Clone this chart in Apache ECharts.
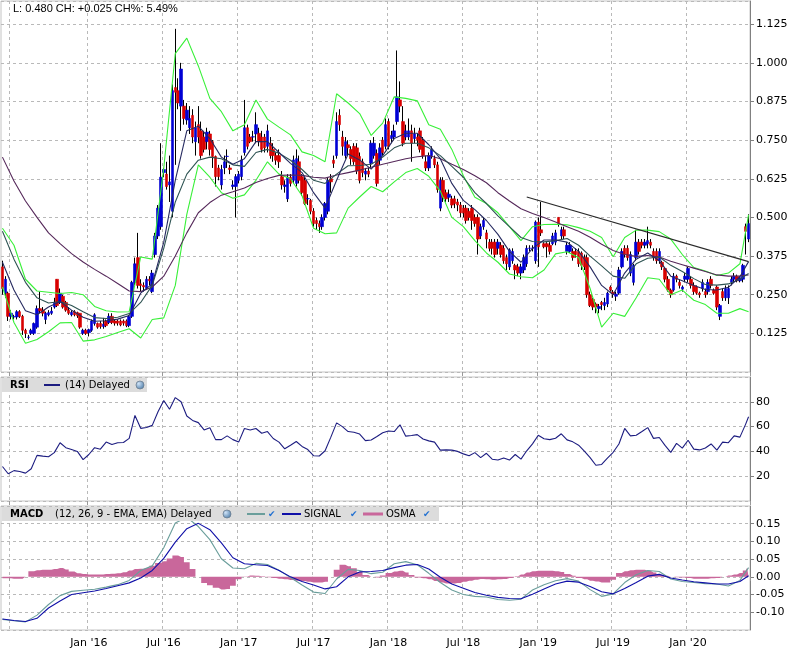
<!DOCTYPE html>
<html>
<head>
<meta charset="utf-8">
<script src="https://cdn.jsdelivr.net/npm/echarts@6/dist/echarts.min.js"></script>
<style>html,body{margin:0;padding:0;background:#fff}#chart{width:796px;height:655px}</style>
</head>
<body>
<div id="chart"></div>
<script>
'use strict';
// weekly candles, first week 2015-06-05
var START_WEEK = Date.UTC(2015, 5, 5);

var openPx = [
  .34,.255,.255,.18,.178,.178,.195,.18,.135,.112, .125,.125,.145,.205,.20,.17,.185,.19,.21,.30,
  .225,.245,.225,.20,.185,.195,.192,.19,.125,.135, .127,.135,.157,.157,.157,.147,.165,.16,.18,.165,
  .165,.165,.165,.165,.15,.18,.29,.37,.285,.28, .27,.30,.26,.38,.44,.47,.645,.64,.605,.52,
  .92,.91,.86,.86,.815,.79,.83,.745,.80,.78, .76,.745,.77,.745,.697,.66,.605,.66,.697,.66,
  .60,.60,.62,.632,.71,.79,.76,.76,.77,.772, .76,.76,.73,.74,.72,.70,.70,.632,.60,.56,
  .63,.62,.61,.68,.632,.62,.56,.555,.52,.49, .48,.47,.50,.52,.625,.685,.70,.83,.76,.70,
  .735,.72,.73,.725,.697,.68,.64,.65,.675,.70, .707,.685,.75,.73,.81,.755,.76,.81,.88,.81,
  .76,.76,.78,.755,.76,.78,.75,.68,.66,.70, .69,.67,.53,.62,.58,.565,.56,.56,.55,.54,
  .53,.53,.52,.53,.50,.50,.44,.47,.45,.42, .42,.42,.40,.41,.40,.37,.34,.36,.345,.34,
  .32,.33,.35,.40,.40,.36,.485,.46,.415,.415, .41,.415,.42,.50,.44,.46,.39,.39,.39,.39,
  .39,.385,.37,.37,.25,.235,.22,.205,.225,.215, .22,.275,.258,.245,.255,.34,.40,.40,.32,.29,
  .37,.42,.42,.41,.415,.42,.39,.39,.36,.355, .335,.30,.265,.265,.31,.29,.268,.30,.30,.30,
  .28,.275,.255,.27,.26,.26,.30,.265,.275,.18, .26,.24,.24,.29,.30,.31,.295,.30,.47,.43
];
var closePx = [
  .27,.30,.18,.19,.179,.195,.18,.135,.125,.113, .135,.157,.205,.198,.19,.19,.192,.197,.225,.215,
  .255,.21,.20,.19,.193,.185,.182,.145,.135,.125, .137,.165,.185,.145,.147,.155,.15,.18,.16,.158,
  .158,.152,.158,.15,.18,.29,.35,.28,.28,.275, .30,.295,.32,.44,.53,.63,.655,.60,.615,.91,
  .905,.87,.98,.82,.847,.82,.76,.79,.76,.70, .72,.776,.72,.697,.632,.632,.655,.68,.698,.655,
  .605,.632,.64,.686,.79,.73,.745,.761,.80,.745, .72,.725,.78,.70,.70,.685,.68,.605,.605,.63,
  .61,.686,.69,.62,.58,.545,.561,.52,.48,.48, .47,.50,.545,.62,.615,.675,.81,.80,.73,.745,
  .725,.69,.68,.65,.62,.645,.65,.64,.74,.74, .61,.725,.71,.80,.73,.765,.78,.89,.86,.74,
  .78,.78,.74,.77,.75,.72,.70,.66,.70,.72, .67,.59,.62,.565,.56,.575,.54,.545,.54,.515,
  .515,.49,.50,.49,.48,.43,.47,.49,.43,.40, .40,.38,.42,.38,.36,.35,.395,.39,.33,.32,
  .34,.37,.40,.401,.401,.485,.405,.45,.405,.405, .39,.44,.45,.48,.46,.44,.41,.41,.37,.38,
  .35,.345,.34,.25,.215,.21,.21,.212,.218,.225, .255,.265,.252,.252,.33,.39,.38,.37,.38,.345,
  .42,.39,.41,.42,.425,.41,.37,.36,.39,.34, .30,.265,.25,.31,.30,.28,.275,.31,.335,.28,
  .26,.255,.25,.29,.25,.29,.28,.255,.21,.215, .24,.27,.27,.30,.31,.295,.305,.345,.455,.48
];
var lowPx = [
  .25,.24,.165,.17,.17,.17,.175,.12,.11,.105, .12,.12,.14,.19,.18,.155,.18,.185,.205,.21,
  .22,.205,.195,.185,.18,.18,.175,.14,.12,.12, .115,.13,.15,.14,.14,.14,.145,.155,.155,.15,
  .15,.148,.15,.145,.145,.175,.28,.27,.26,.26, .265,.28,.255,.37,.43,.46,.63,.59,.55,.50,
  .67,.85,.78,.80,.80,.77,.74,.70,.74,.69, .71,.72,.70,.66,.60,.62,.59,.64,.66,.64,
  .59,.50,.61,.62,.70,.72,.74,.745,.74,.73, .71,.71,.71,.69,.68,.67,.66,.59,.58,.55,
  .60,.61,.60,.61,.57,.54,.54,.51,.47,.46, .45,.46,.49,.51,.58,.66,.69,.78,.70,.69,
  .70,.67,.67,.64,.61,.63,.62,.63,.66,.69, .60,.67,.70,.72,.72,.74,.75,.80,.84,.73,
  .75,.75,.68,.74,.73,.71,.69,.65,.65,.69, .66,.58,.52,.55,.55,.55,.53,.53,.52,.50,
  .50,.48,.49,.46,.47,.38,.43,.46,.40,.39, .38,.37,.38,.37,.35,.33,.33,.35,.30,.31,
  .30,.32,.34,.39,.39,.35,.34,.44,.40,.37, .38,.41,.41,.47,.43,.43,.38,.385,.36,.37,
  .34,.33,.33,.24,.21,.20,.19,.19,.20,.20, .21,.26,.24,.23,.25,.335,.37,.36,.31,.28,
  .36,.38,.40,.40,.40,.40,.36,.35,.35,.33, .29,.26,.24,.26,.29,.27,.26,.29,.29,.27,
  .25,.25,.24,.26,.24,.25,.27,.25,.20,.168, .23,.23,.22,.28,.29,.29,.29,.29,.38,.42
];
var highPx = [
  .36,.31,.26,.20,.185,.20,.20,.185,.14,.12, .14,.16,.215,.26,.21,.195,.20,.21,.24,.30,
  .27,.25,.23,.21,.20,.20,.195,.19,.14,.14, .14,.17,.19,.16,.165,.175,.17,.19,.19,.17,
  .17,.17,.17,.17,.185,.295,.37,.45,.30,.29, .31,.31,.33,.45,.54,.74,.66,.68,.70,.93,
  1.11,.95,1.0,.88,.87,.86,.85,.81,.86,.81, .78,.79,.78,.75,.70,.67,.67,.70,.72,.67,
  .62,.64,.65,.70,.88,.80,.77,.78,.84,.79, .78,.77,.80,.76,.74,.71,.72,.65,.62,.64,
  .64,.70,.72,.70,.64,.63,.575,.56,.53,.50, .49,.51,.55,.63,.64,.70,.84,.85,.78,.76,
  .75,.73,.74,.74,.71,.69,.66,.66,.75,.76, .72,.74,.76,.82,.82,.78,.80,1.04,.94,.86,
  .80,.82,.80,.79,.77,.79,.76,.70,.71,.73, .70,.68,.63,.63,.59,.59,.57,.57,.56,.55,
  .54,.54,.53,.54,.51,.51,.48,.50,.46,.43, .43,.43,.43,.42,.41,.38,.40,.40,.35,.35,
  .35,.38,.41,.41,.41,.49,.50,.55,.42,.42, .42,.45,.46,.50,.47,.47,.42,.42,.40,.40,
  .40,.39,.38,.38,.26,.24,.225,.22,.23,.24, .26,.28,.265,.26,.34,.40,.41,.41,.39,.35,
  .46,.43,.43,.43,.47,.43,.40,.40,.40,.36, .34,.31,.27,.32,.315,.30,.28,.32,.34,.31,
  .29,.28,.26,.30,.27,.30,.31,.27,.28,.22, .27,.28,.28,.31,.32,.315,.31,.35,.48,.51
];

// overlays read every 4 weeks (last point = last week)
var fastMA = [.355,.265,.198,.185,.21,.228,.20,.177,.164,.166, .171,.183,.255,.285,.42,.62,.78,.795,.755,.695,
  .672,.69,.745,.745,.71,.675,.645,.58,.53,.62, .705,.686,.656,.70,.755,.772,.772,.735,.69,.61,
  .555,.525,.49,.445,.39,.355,.40,.427,.427,.42, .39,.34,.28,.25,.32,.365,.385,.36,.31,.295,
  .28,.267,.265,.274,.308,.357];
var midMA = [.455,.365,.29,.24,.223,.228,.215,.195,.176,.173, .177,.189,.225,.28,.40,.55,.64,.685,.695,.69,
  .67,.665,.71,.72,.708,.685,.655,.62,.61,.64, .667,.668,.672,.695,.725,.74,.74,.725,.70,.665,
  .63,.58,.545,.505,.47,.435,.422,.421,.425,.432, .41,.375,.343,.31,.303,.35,.368,.372,.345,.325,
  .302,.283,.281,.285,.30,.319];
var slowMA = [.695,.618,.553,.50,.45,.415,.383,.356,.332,.31, .286,.262,.26,.275,.31,.375,.45,.515,.548,.572,
  .583,.595,.613,.626,.636,.637,.636,.63,.627,.637, .645,.653,.662,.672,.681,.69,.696,.70,.69,.672,
  .655,.635,.612,.58,.553,.528,.513,.50,.485,.47, .455,.436,.413,.393,.38,.374,.377,.372,.358,.347,
  .336,.325,.314,.31,.311,.314];
var bbUpper = [.465,.41,.30,.262,.258,.254,.257,.25,.212,.198, .194,.195,.372,.365,.66,1.03,1.08,.99,.885,.842,
  .78,.80,.88,.818,.792,.767,.712,.70,.68,.90, .87,.836,.765,.805,.89,.885,.877,.80,.785,.72,
  .635,.565,.545,.515,.47,.425,.47,.477,.478,.476, .467,.455,.435,.373,.435,.459,.459,.454,.43,.38,
  .338,.327,.312,.32,.35,.508];
var bbLower = [.275,.16,.093,.105,.13,.159,.16,.10,.104,.115, .128,.14,.11,.17,.175,.28,.51,.67,.63,.58,
  .562,.573,.62,.68,.64,.625,.57,.465,.447,.45, .53,.566,.60,.583,.615,.645,.658,.633,.585,.50,
  .47,.425,.385,.355,.317,.308,.305,.33,.382,.389, .37,.27,.145,.19,.18,.24,.305,.30,.25,.265,
  .232,.218,.19,.19,.205,.195];
var macdLine = [-.12,-.124,-.127,-.108,-.078,-.053,-.041,-.038,-.035,-.029, -.022,-.01,.018,.031,.082,.152,.168,.142,.105,.051,
  .025,.023,.038,.035,.019,-.002,-.023,-.043,-.047,-.006, .021,.018,.009,.013,.037,.043,.034,.01,-.016,-.037,
  -.05,-.055,-.057,-.064,-.066,-.063,-.037,-.022,-.011,-.005, -.012,-.036,-.055,-.048,-.016,.006,.018,.015,-.006,-.013,
  -.016,-.019,-.02,-.026,-.01,.026];
var signalLine = [-.119,-.123,-.126,-.117,-.088,-.068,-.05,-.045,-.04,-.033, -.025,-.017,-.003,.018,.052,.098,.136,.151,.133,.096,
  .054,.037,.034,.032,.018,0,-.013,-.023,-.034,-.028, 0,.014,.015,.018,.026,.033,.035,.022,-.001,-.02,
  -.032,-.044,-.052,-.058,-.061,-.062,-.049,-.034,-.02,-.012, -.015,-.027,-.042,-.048,-.033,-.016,.002,.007,-.003,-.009,
  -.014,-.017,-.02,-.02,-.013,.003];

// read every 2 weeks (last point = last week)
var rsiValues = [27.8,22,24.5,23.8,22.5,26,36.8,36.2,35.7,39, 47,43,41.5,40,33.4,37.5,43,41.8,47.5,45.5,
  47,47.2,50.5,69,58.6,59.3,61,72,81,74, 83.4,80,68.5,65,63.2,57.3,59,49.5,49.5,52.5,
  49.5,47.5,58.5,57.3,58.5,54.6,56,50.4,47.5,42.1, 45,48,44,41.5,36.5,36.3,40.5,51.5,63,60,
  56,55.5,54,48.7,49.2,52,55,56.5,56,61.5, 52.3,52.8,53.5,50,48.5,47.5,41,41.2,41,40,
  38,36.5,39,35,38.5,33.7,33,34.7,33,37.5, 33.8,40.5,46.1,53,50.2,49.5,50.6,54.2,49.3,47.7,
  45,40.3,35,28.8,29.5,34.5,39.3,46,58.5,52.5, 53,56,59.2,50.5,51.2,44.8,39.2,46.5,42.6,49,
  41.8,41.2,42.7,46,41,47.5,47,52.5,51.5,62, 68];
var osmaValues = [-.004,-.004,-.005,-.005,0,.016,.019,.02,.02,.022, .025,.021,.015,.01,.008,.007,.007,.007,.008,.009,
  .01,.013,.018,.022,.023,.025,.031,.039,.044,.052, .06,.056,.041,.022,0,-.017,-.024,-.031,-.036,-.034,
  -.025,-.007,.001,.004,.003,.002,-.001,-.003,-.005,-.007, -.009,-.011,-.012,-.014,-.016,-.016,-.014,0,.02,.034,
  .03,.024,.014,.005,0,-.002,.004,.011,.015,.017, .012,.005,-.002,-.004,-.007,-.012,-.016,-.019,-.019,-.017,
  -.014,-.011,-.008,-.006,-.007,-.008,-.007,-.006,-.003,.002, .007,.012,.016,.017,.017,.017,.016,.014,.008,.003,
  -.003,-.007,-.011,-.013,-.016,-.016,-.008,.011,.016,.019, .02,.02,.017,.012,.006,.003,0,-.001,-.002,-.003,
  -.005,-.005,-.005,-.004,-.003,0,.004,.007,.011,.018, .026];

var trendWeeks = [182, 259];
var trendValues = [0.566, 0.357];

var MONTHS = ['Jan','Feb','Mar','Apr','May','Jun','Jul','Aug','Sep','Oct','Nov','Dec'];
var lastWeek = openPx.length - 1;

var weekDates = openPx.map(function (_, i) { return new Date(START_WEEK + i * 7 * 864e5); });
var categories = weekDates.map(function (d) { return d.toISOString().slice(0, 10); });

// week that contains the 1st of January or July
var halfYear = weekDates.map(function (d) {
  var end = new Date(d.getTime() + 6 * 864e5);
  var m = end.getUTCMonth();
  if (m % 6 !== 0) return false;
  var first = Date.UTC(end.getUTCFullYear(), m, 1);
  return first >= d.getTime() && first <= end.getTime();
});
var isMark = function (index) { return halfYear[index]; };

function atWeeks(values, step) {
  return values.map(function (v, k) { return [k < values.length - 1 ? k * step : lastWeek, v]; });
}

var wickData = openPx.map(function (o, i) { return [o, closePx[i], lowPx[i], highPx[i]]; });
var bodyData = openPx.map(function (o, i) {
  return [o, closePx[i], Math.min(o, closePx[i]), Math.max(o, closePx[i])];
});

var GRID_LINE = {color: '#b9b9b9', type: [3, 3], width: 1};
var LABEL = {color: '#000', fontFamily: 'DejaVu Sans', fontSize: 11};

function xAxisFor(gridIndex, showLabels) {
  return {
    type: 'category', gridIndex: gridIndex, data: categories, boundaryGap: true,
    axisLine: {show: false},
    axisTick: {show: true, interval: isMark, length: 4, lineStyle: {color: '#999'}},
    splitLine: {show: true, interval: isMark, lineStyle: GRID_LINE},
    axisLabel: Object.assign({
      show: showLabels, interval: isMark, margin: 8,
      formatter: function (value, index) {
        if (index < 10) return '';
        var d = weekDates[index], end = new Date(d.getTime() + 6 * 864e5);
        return MONTHS[end.getUTCMonth()] + " '" + String(end.getUTCFullYear()).slice(2);
      }
    }, LABEL)
  };
}

function yAxisFor(gridIndex, min, max, interval, digits) {
  return {
    type: 'value', gridIndex: gridIndex, position: 'right', min: min, max: max, interval: interval,
    axisLine: {show: true, lineStyle: {color: '#808080'}},
    axisTick: {show: true, length: 4, lineStyle: {color: '#808080'}},
    splitLine: {show: true, lineStyle: GRID_LINE},
    axisLabel: Object.assign({
      margin: 6, showMinLabel: false, showMaxLabel: false,
      formatter: function (v) { return digits ? v.toFixed(digits) : String(v); }
    }, LABEL)
  };
}

function line(name, data, color, xi, extra) {
  return Object.assign({
    name: name, type: 'line', xAxisIndex: xi, yAxisIndex: xi, data: data,
    symbol: 'none', silent: true, z: 5,
    lineStyle: {color: color, width: 1.1}
  }, extra || {});
}

var headerFont = '10px "DejaVu Sans"';
var boldFont = 'bold 10px "DejaVu Sans"';
function txt(x, y, s, font, fill) {
  return {type: 'text', silent: true, z: 100, style: {x: x, y: y, text: s, font: font, fill: fill || '#000', verticalAlign: 'middle'}};
}
function seg(x1, x2, y, color, w) {
  return {type: 'line', silent: true, z: 100, shape: {x1: x1, y1: y, x2: x2, y2: y}, style: {stroke: color, lineWidth: w}};
}
function globe(cx, cy) {
  return {type: 'circle', silent: true, z: 100, shape: {cx: cx, cy: cy, r: 4},
    style: {fill: new echarts.graphic.RadialGradient(0.35, 0.35, 0.8, [{offset: 0, color: '#cfe3f7'}, {offset: 1, color: '#3d6f9e'}]), stroke: '#6d7f90', lineWidth: 0.8}};
}
function check(x, y) { return txt(x, y, '\u2714', '9px "DejaVu Sans"', '#1f6fd1'); }

var option = {
  animation: false,
  backgroundColor: '#fff',
  grid: [
    {left: 1, top: 1, width: 749, height: 371, show: true, borderColor: '#c4c4c4', borderWidth: 1},
    {left: 1, top: 377, width: 749, height: 124, show: true, borderColor: '#c4c4c4', borderWidth: 1},
    {left: 1, top: 506, width: 749, height: 124, show: true, borderColor: '#c4c4c4', borderWidth: 1}
  ],
  xAxis: [xAxisFor(0, false), xAxisFor(1, false), xAxisFor(2, true)],
  yAxis: [
    yAxisFor(0, 0, 1.2, 0.125, 3),
    yAxisFor(1, 0, 100, 20, 0),
    yAxisFor(2, -0.15, 0.2, 0.05, 2)
  ],
  series: [
    {
      name: 'wick', type: 'candlestick', xAxisIndex: 0, yAxisIndex: 0, data: wickData,
      barWidth: 1, silent: true, z: 2,
      itemStyle: {color: '#000', color0: '#000', borderColor: '#000', borderColor0: '#000', borderWidth: 1}
    },
    {
      name: 'body', type: 'candlestick', xAxisIndex: 0, yAxisIndex: 0, data: bodyData,
      barWidth: 3, silent: true, z: 3,
      itemStyle: {color: '#0000d4', color0: '#d80000', borderColor: '#0000d4', borderColor0: '#d80000', borderWidth: 0.6}
    },
    line('bbUpper', atWeeks(bbUpper, 4), '#38f038', 0),
    line('bbLower', atWeeks(bbLower, 4), '#38f038', 0),
    line('slow', atWeeks(slowMA, 4), '#55285a', 0),
    line('mid', atWeeks(midMA, 4), '#2d5352', 0),
    line('fast', atWeeks(fastMA, 4), '#262a60', 0),
    line('trend', trendWeeks.map(function (w, k) { return [w, trendValues[k]]; }), '#2a2a2a', 0, {z: 6}),
    line('RSI', atWeeks(rsiValues, 2), '#1c1c80', 1),
    line('OSMA', atWeeks(osmaValues, 2), '#c9679b', 2, {
      step: 'middle', z: 3, lineStyle: {width: 0, color: '#c9679b'},
      areaStyle: {color: '#c9679b', opacity: 1}
    }),
    line('MACD', atWeeks(macdLine, 4), '#6a9e9b', 2),
    line('SIGNAL', atWeeks(signalLine, 4), '#1010a8', 2)
  ],
  graphic: [
    txt(13, 9, 'L: 0.480 CH: +0.025 CH%: 5.49%', '11px "Liberation Sans"'),
    {type: 'rect', silent: true, z: 99, shape: {x: 2, y: 378, width: 145, height: 14}, style: {fill: '#dcdcdc'}},
    txt(10, 385, 'RSI', boldFont),
    seg(44, 60, 385, '#1c1c80', 2),
    txt(65, 385, '(14) Delayed', headerFont),
    globe(140, 385),
    {type: 'rect', silent: true, z: 99, shape: {x: 2, y: 507, width: 437, height: 14}, style: {fill: '#dcdcdc'}},
    txt(10, 514, 'MACD', boldFont),
    txt(55, 514, '(12, 26, 9 - EMA, EMA) Delayed', headerFont),
    globe(227, 514),
    seg(247, 265, 514, '#6a9e9b', 2),
    check(268, 515),
    seg(282, 301, 514, '#1010a8', 2),
    txt(304, 514, 'SIGNAL', headerFont),
    check(350, 515),
    seg(363, 383, 514, '#c9679b', 3),
    txt(386, 514, 'OSMA', headerFont),
    check(423, 515)
  ]
};

var chart = echarts.init(document.getElementById('chart'));
chart.setOption(option);
</script>
</body>
</html>
